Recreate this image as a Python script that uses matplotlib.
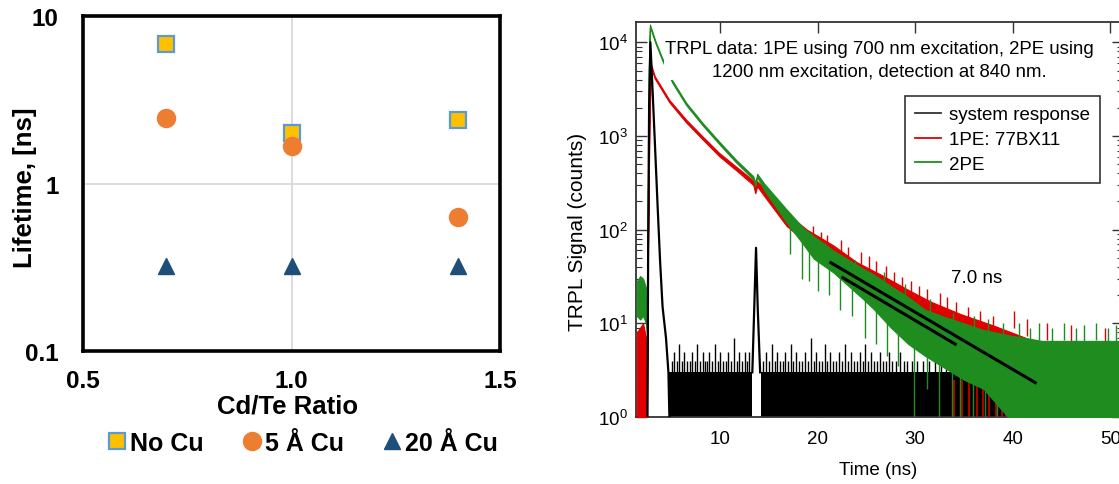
import numpy as np
import matplotlib.pyplot as plt
from matplotlib.lines import Line2D
from matplotlib.ticker import FixedLocator, FixedFormatter, LogLocator, NullFormatter

# ---- left panel: lifetime vs Cd/Te ratio ----
ratio = [0.7, 1.0, 1.4]
life_no_cu = [6.8, 2.0, 2.4]
life_5a_cu = [2.45, 1.67, 0.63]
life_20a_cu = [0.32, 0.32, 0.32]
left_names = ['No Cu', '5 Å Cu', '20 Å Cu']

# ---- right panel: TRPL traces, envelopes ----
# system response, main pulse
blk_t = [2.55, 2.62, 2.72, 2.85, 3.05, 3.3, 3.6, 3.85, 4.1, 4.45, 4.7, 4.8]
blk_y = [1, 60, 2000, 10000, 3500, 900, 170, 45, 15, 7, 3, 1]
# system response, reflection pulse
blk2_t = [13.3, 13.5, 13.68, 13.85, 14.1]
blk2_y = [3, 15, 64, 15, 3]
# system response floor (counts 1..3), two stretches
blk_floor = [(4.75, 13.3), (14.15, 39.5)]
blk_spk_t = [5.1, 5.3, 5.6, 5.8, 6.1, 6.3, 6.6, 6.9, 7.1, 7.4, 7.6, 7.9, 8.2, 8.4, 8.7,
             8.9, 9.2, 9.5, 9.8, 10.0, 10.3, 10.6, 10.8, 11.1, 11.4, 11.7, 11.9, 12.2,
             12.5, 12.8, 13.0, 14.4, 14.7, 15.0, 15.3, 15.6, 15.8, 16.1, 16.4, 16.7,
             17.0, 17.3, 17.5, 17.8, 18.1, 18.4, 18.7, 19.0, 19.3, 19.6, 19.8, 20.1,
             20.4, 20.7, 21.0, 21.3, 21.6, 21.9, 22.2, 22.5, 22.8, 23.1, 23.4, 23.7,
             24.0, 24.3, 24.6, 24.9, 25.2, 25.5, 25.8, 26.1, 26.4, 26.7, 27.0, 27.3,
             27.6, 28.0, 28.4, 28.8, 29.2, 29.7, 30.2, 30.8, 31.4, 32.0, 32.6, 33.2]
blk_spk_y = [4, 5, 4, 6, 4, 5, 4, 4, 5, 4, 6, 4, 5, 4, 4,
             5, 4, 6, 4, 5, 4, 4, 5, 4, 7, 4, 5, 4,
             5, 4, 5, 4, 5, 4, 6, 4, 5, 4, 4, 5,
             4, 6, 4, 5, 4, 4, 5, 4, 7, 4, 5, 4,
             4, 6, 4, 5, 4, 4, 5, 4, 6, 4, 5, 4,
             4, 5, 4, 6, 4, 5, 4, 4, 5, 4, 4, 5,
             4, 4, 5, 4, 4, 4, 4, 4, 4, 4, 4, 4]

# 1PE (red)
red_t = [1.45, 1.8, 2.1, 2.4, 2.5, 2.6, 2.75, 2.9, 3.3, 4.8, 6.5, 8.2, 9.9, 11.65, 13.4,
         13.6, 13.8, 14.5, 16.8, 18.9, 21.6, 24.0, 26.5, 29.2, 31.6, 34.7, 38.0, 43.0,
         48.0, 51.3]
red_hi = [8, 9, 10, 7, 1.5, 60, 1500, 5900, 4350, 2420, 1500, 990, 660, 470, 335,
          282, 330, 272, 150, 100, 68, 45, 33, 23, 17, 12.5, 9.5, 6, 6, 6]
red_lo = [1, 1, 1, 1, 1, 50, 1300, 5400, 4100, 2280, 1400, 920, 610, 430, 300,
          245, 290, 230, 110, 72, 46, 31, 21, 12, 7, 3, 2.2, 1, 1, 1]
red_spk_t = [19.5, 20.3, 21.0, 22.4, 23.1, 24.4, 25.3, 26.0, 27.0, 27.8, 28.6, 29.6,
             30.4, 31.2, 32.5, 33.3, 34.2, 35.4, 36.6, 38.0, 40.1, 41.5, 43.5, 46.0, 49.5]
red_spk_y = [110, 95, 88, 78, 66, 58, 52, 46, 41, 35, 31, 28,
             25, 23, 21, 19, 17, 15, 13.5, 12, 13.5, 11, 10, 9.5, 9]
red_dip_t = [34.0, 34.8, 35.5, 36.3, 36.9, 37.6, 38.3, 38.9, 39.3]

# 2PE (green)
grn_t = [1.45, 1.8, 2.1, 2.4, 2.5, 2.6, 2.7, 2.8, 3.4, 4.1, 5.1, 6.5, 8.2, 10.0, 11.65,
         13.4, 13.6, 13.8, 14.5, 16.8, 18.5, 19.6, 21.6, 24.7, 25.8, 27.5, 29.3, 31.0,
         32.7, 35.0, 37.0, 39.5, 43.0, 48.0, 51.3]
grn_hi = [28, 32, 30, 24, 14, 300, 6000, 15500, 10100, 6650, 3920, 2280, 1380, 850, 555,
          372, 318, 395, 312, 165, 105, 85, 60, 38, 33, 25, 19, 14,
          12, 10, 8.5, 7.5, 6.5, 6.5, 6.5]
grn_lo = [12, 11, 12, 10, 8, 250, 5200, 14500, 9600, 6300, 3700, 2150, 1300, 800, 520,
          345, 290, 365, 265, 120, 70, 49, 35, 18, 14, 9, 6, 4.5,
          3.5, 2.5, 2, 1, 1, 1, 1]
grn_spk_t = [20.8, 23.8, 26.8, 28.9, 31.5, 33.9, 36.0, 37.5, 39.0, 40.6, 41.8, 42.7,
             44.0, 45.2, 46.5, 47.3, 48.5, 49.8, 50.6]
grn_spk_y = [72, 48, 35, 26, 18, 13, 12, 11, 10, 10, 9, 10, 9, 10, 9, 9.5, 10, 9, 9.5]
grn_dip_t = [17.2, 18.4, 19.1, 20.0, 21.2, 22.3, 23.5, 24.8, 26.0, 27.1, 28.2, 29.9,
             31.2, 32.4, 33.8, 34.6, 35.9, 37.2, 38.4]
grn_dip_y = [55, 30, 28, 22, 20, 14, 12, 7, 6, 4.5, 3.5, 1, 2, 1, 1, 1, 1, 1, 1]
grn_dip_top = [130, 85, 70, 55, 45, 34, 27, 22, 16, 12, 10, 7, 5.5, 4.5, 3.6, 3.1, 2.8,
               2.4, 1.8]

# 7.0 ns guide lines
fit1_t = [21.35, 42.3]
fit1_y = [44.4, 2.33]
fit2_t = [22.58, 34.1]
fit2_y = [30.7, 6.0]

trace_names = ['system response', '1PE: 77BX11', '2PE']

plt.rcParams['font.family'] = ['Liberation Sans', 'DejaVu Sans']
plt.rcParams['mathtext.fontset'] = 'custom'
plt.rcParams['mathtext.rm'] = 'Liberation Sans'
plt.rcParams['mathtext.it'] = 'Liberation Sans'

fig = plt.figure(figsize=(11.19, 4.85), dpi=100)

#%% left panel
ax1 = fig.add_axes([0.0742, 0.2742, 0.3727, 0.6907])
ax1.plot(ratio, life_no_cu, ls='none', marker='s', ms=11, mfc='#FFC000', mec='#5B9BD5',
         mew=1.6, zorder=4)
ax1.plot(ratio, life_5a_cu, ls='none', marker='o', ms=13, mfc='#ED7D31', mec='#ED7D31',
         zorder=4)
ax1.plot(ratio, life_20a_cu, ls='none', marker='^', ms=12, mfc='#1F4E79', mec='#1F4E79',
         zorder=4)
ax1.set_yscale('log')
ax1.set_xlim(0.5, 1.5)
ax1.set_ylim(0.1, 10)
ax1.xaxis.set_major_locator(FixedLocator([0.5, 1.0, 1.5]))
ax1.xaxis.set_major_formatter(FixedFormatter(['0.5', '1.0', '1.5']))
ax1.yaxis.set_major_locator(FixedLocator([0.1, 1, 10]))
ax1.yaxis.set_major_formatter(FixedFormatter(['0.1', '1', '10']))
ax1.yaxis.set_minor_locator(FixedLocator([]))
ax1.grid(True, color='#D9D9D9', lw=1.3)
ax1.set_axisbelow(True)
for s in ax1.spines.values():
    s.set_linewidth(2.6)
    s.set_color('black')
ax1.tick_params(length=0, labelsize=17.5)
ax1.tick_params(axis='x', pad=13)
ax1.tick_params(axis='y', pad=17.5)
for lab in ax1.get_xticklabels() + ax1.get_yticklabels():
    lab.set_fontweight('bold')
ax1.set_xlabel('Cd/Te Ratio', fontsize=18.5, fontweight='bold')
ax1.xaxis.set_label_coords(0.49, -0.128)
ax1.set_ylabel('Lifetime, [ns]', fontsize=18.5, fontweight='bold')
ax1.yaxis.set_label_coords(-0.11, 0.49)

lh = [Line2D([], [], ls='none', marker='s', ms=11, mfc='#FFC000', mec='#5B9BD5', mew=1.6),
      Line2D([], [], ls='none', marker='o', ms=13, mfc='#ED7D31', mec='#ED7D31'),
      Line2D([], [], ls='none', marker='^', ms=12, mfc='#1F4E79', mec='#1F4E79')]
fig.legend(lh, left_names, loc='center', bbox_to_anchor=(0.271, 0.085), ncol=3,
           frameon=False, prop=dict(weight='bold', size=18), handlelength=0.7,
           handletextpad=0.15, columnspacing=1.6)

#%% right panel
ax2 = fig.add_axes([0.5684, 0.1381, 0.4352, 0.8151])
ax2.set_yscale('log')

# system response
for a, b in blk_floor:
    ax2.fill_between([a, b], [1, 1], [3, 3], color='black', lw=0, zorder=2)
ax2.vlines(blk_spk_t, 3, blk_spk_y, color='black', lw=1, zorder=2)

# 1PE
ax2.fill_between(red_t, red_lo, red_hi, color='#E00000', lw=0.8, zorder=3)
ax2.vlines(red_spk_t, np.array(red_spk_y) / 1.5, red_spk_y, color='#E00000', lw=1, zorder=3)
ax2.vlines(red_dip_t, 1, 2.5, color='#D00000', lw=1.2, zorder=3)

# 2PE
ax2.fill_between(grn_t, grn_lo, grn_hi, color='#1E8C1E', lw=0.8, zorder=4)
ax2.vlines(grn_spk_t, np.array(grn_spk_y) / 1.5, grn_spk_y, color='#1E8C1E', lw=1, zorder=4)
ax2.vlines(grn_dip_t, grn_dip_y, grn_dip_top, color='#1E8C1E', lw=1, zorder=4)

ax2.plot(blk_t, blk_y, color='black', lw=1.6, zorder=5)
ax2.plot(blk2_t, blk2_y, color='black', lw=1.6, zorder=5)

ax2.plot(fit1_t, fit1_y, color='black', lw=2.2, zorder=6)
ax2.plot(fit2_t, fit2_y, color='black', lw=2.2, zorder=6)
ax2.text(36.3, 30.7, '7.0 ns', fontsize=13.5, ha='center', va='center', zorder=7)

ax2.text(0.499, 0.904, 'TRPL data: 1PE using 700 nm excitation, 2PE using\n'
         '1200 nm excitation, detection at 840 nm.', transform=ax2.transAxes,
         fontsize=13.4, ha='center', va='center', multialignment='center',
         linespacing=1.45, zorder=7, bbox=dict(fc='white', ec='none', pad=0.5))

ax2.set_xlim(1.38, 51.3)
ax2.set_ylim(1, 16600)
ax2.xaxis.set_major_locator(FixedLocator([10, 20, 30, 40, 50]))
ax2.yaxis.set_major_locator(LogLocator(base=10))
ax2.yaxis.set_minor_locator(LogLocator(base=10, subs=np.arange(2, 10)))
ax2.yaxis.set_minor_formatter(NullFormatter())
ax2.tick_params(which='both', direction='in', top=True, right=True, color='#333333')
ax2.tick_params(which='major', length=8, width=1)
ax2.tick_params(which='minor', length=4, width=0.8)
ax2.tick_params(axis='x', labelsize=13.5, pad=9)
ax2.tick_params(axis='y', labelsize=13.5, pad=6)
for s in ax2.spines.values():
    s.set_linewidth(1.3)
    s.set_color('#333333')
ax2.set_xlabel('Time (ns)', fontsize=13.5)
ax2.xaxis.set_label_coords(0.497, -0.11)
ax2.set_ylabel('TRPL Signal (counts)', fontsize=15)
ax2.yaxis.set_label_coords(-0.1, 0.47)

rh = [Line2D([], [], color='#333333', lw=1.3),
      Line2D([], [], color='#E00000', lw=1.3),
      Line2D([], [], color='#1E8C1E', lw=1.3)]
leg = ax2.legend(rh, trace_names, loc='upper left', bbox_to_anchor=(0.552, 0.812),
                 frameon=True, fancybox=False, edgecolor='#333333', framealpha=1,
                 prop=dict(size=13.5), handlelength=1.4, handletextpad=0.4,
                 borderpad=0.55, labelspacing=0.4, borderaxespad=0)
leg.get_frame().set_linewidth(1.2)
leg.set_zorder(8)

fig.savefig('out.png', dpi=100)
